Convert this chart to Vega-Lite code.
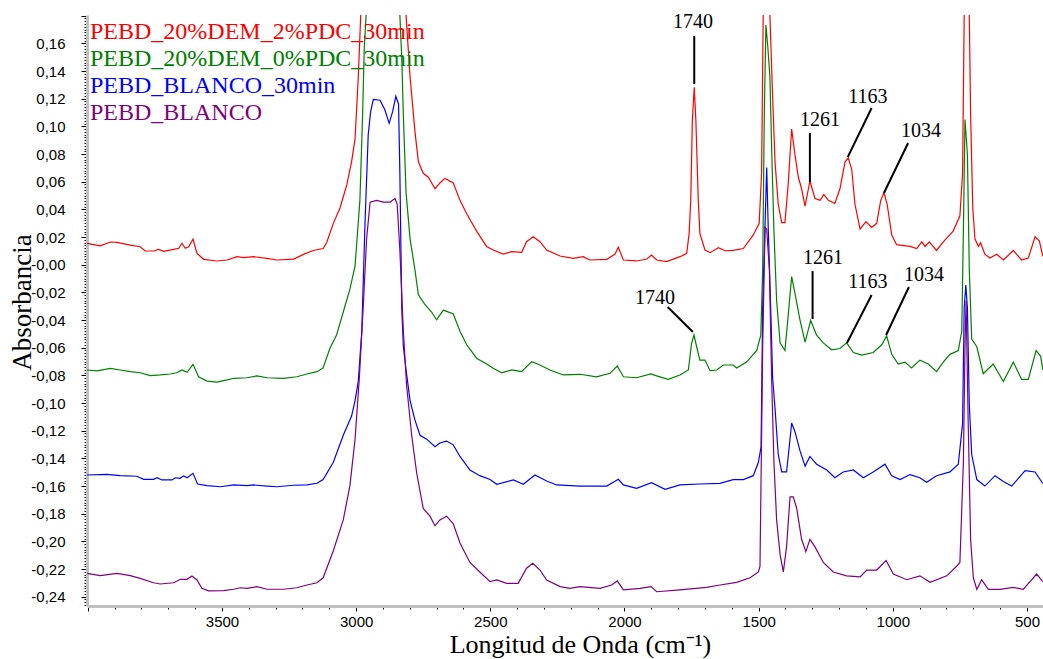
{
"$schema":"https://vega.github.io/schema/vega-lite/v6.json",
"width":956,"height":591,
"autosize":{"type":"none"},
"padding":{"left":87,"top":15,"right":0,"bottom":53},
"background":"white",
"config":{"view":{"stroke":null},
 "axis":{"grid":false,"domainColor":"#c0c0c0","domainWidth":3,"tickColor":"black","tickWidth":1,"labelFont":"Liberation Sans","labelFontSize":15,"labelColor":"black","labelOverlap":false,"labelFlush":false,"labelBound":false,"titleFont":"Liberation Serif","titleFontWeight":"normal","titleColor":"black"}},
"datasets":{
"red":[{"w":4003,"a":0.0155},{"w":3954,"a":0.0137},{"w":3916,"a":0.0164},{"w":3891,"a":0.0162},{"w":3842,"a":0.0142},{"w":3805,"a":0.013},{"w":3786,"a":0.0099},{"w":3755,"a":0.0099},{"w":3736,"a":0.0111},{"w":3717,"a":0.0097},{"w":3680,"a":0.0111},{"w":3661,"a":0.0119},{"w":3649,"a":0.0155},{"w":3637,"a":0.0119},{"w":3624,"a":0.013},{"w":3608,"a":0.0186},{"w":3593,"a":0.0082},{"w":3568,"a":0.0039},{"w":3519,"a":0.0027},{"w":3481,"a":0.0034},{"w":3444,"a":0.0058},{"w":3419,"a":0.0051},{"w":3382,"a":0.0058},{"w":3332,"a":0.0046},{"w":3295,"a":0.0034},{"w":3233,"a":0.0041},{"w":3196,"a":0.0075},{"w":3160,"a":0.0103},{"w":3123,"a":0.0117},{"w":3110,"a":0.0159},{"w":3085,"a":0.0299},{"w":3060,"a":0.041},{"w":3035,"a":0.0577},{"w":3017,"a":0.0744},{"w":3004,"a":0.0911},{"w":2992,"a":0.1357},{"w":2983,"a":0.1802},{"w":2941,"a":0.32},{"w":2855,"a":0.32},{"w":2814,"a":0.1802},{"w":2799,"a":0.1357},{"w":2781,"a":0.0966},{"w":2768,"a":0.0744},{"w":2750,"a":0.0661},{"w":2731,"a":0.0632},{"w":2706,"a":0.0549},{"w":2688,"a":0.0591},{"w":2669,"a":0.0624},{"w":2638,"a":0.0591},{"w":2613,"a":0.0465},{"w":2588,"a":0.0368},{"w":2551,"a":0.0243},{"w":2514,"a":0.0132},{"w":2489,"a":0.0106},{"w":2452,"a":0.0077},{"w":2420,"a":0.0094},{"w":2383,"a":0.009},{"w":2365,"a":0.0166},{"w":2340,"a":0.0202},{"w":2315,"a":0.0166},{"w":2290,"a":0.0106},{"w":2240,"a":0.0063},{"w":2191,"a":0.0046},{"w":2154,"a":0.0058},{"w":2129,"a":0.0034},{"w":2066,"a":0.0039},{"w":2035,"a":0.0077},{"w":2023,"a":0.0126},{"w":2004,"a":0.0034},{"w":1955,"a":0.0027},{"w":1917,"a":0.0041},{"w":1899,"a":0.007},{"w":1880,"a":0.0034},{"w":1843,"a":0.0022},{"w":1793,"a":0.0058},{"w":1768,"a":0.0082},{"w":1759,"a":0.0227},{"w":1753,"a":0.0468},{"w":1747,"a":0.1046},{"w":1740,"a":0.1282},{"w":1734,"a":0.1046},{"w":1725,"a":0.0468},{"w":1719,"a":0.0227},{"w":1700,"a":0.0106},{"w":1681,"a":0.0087},{"w":1650,"a":0.0123},{"w":1625,"a":0.0101},{"w":1595,"a":0.0103},{"w":1557,"a":0.0117},{"w":1520,"a":0.0215},{"w":1498,"a":0.0299},{"w":1489,"a":0.0661},{"w":1483,"a":0.1802},{"w":1471,"a":0.3},{"w":1458,"a":0.1802},{"w":1448,"a":0.1217},{"w":1439,"a":0.0744},{"w":1427,"a":0.0437},{"w":1414,"a":0.0304},{"w":1402,"a":0.0304},{"w":1390,"a":0.0577},{"w":1377,"a":0.0981},{"w":1365,"a":0.0799},{"w":1352,"a":0.0632},{"w":1340,"a":0.0549},{"w":1327,"a":0.0424},{"w":1309,"a":0.0605},{"w":1290,"a":0.0479},{"w":1271,"a":0.0465},{"w":1257,"a":0.0507},{"w":1240,"a":0.0465},{"w":1216,"a":0.0443},{"w":1197,"a":0.0549},{"w":1178,"a":0.0744},{"w":1166,"a":0.0772},{"w":1153,"a":0.0688},{"w":1141,"a":0.0437},{"w":1122,"a":0.0257},{"w":1100,"a":0.0312},{"w":1079,"a":0.027},{"w":1060,"a":0.0299},{"w":1045,"a":0.0465},{"w":1033,"a":0.0521},{"w":1021,"a":0.0437},{"w":1004,"a":0.0215},{"w":986,"a":0.0145},{"w":936,"a":0.0132},{"w":911,"a":0.0117},{"w":892,"a":0.0165},{"w":880,"a":0.0132},{"w":864,"a":0.0165},{"w":837,"a":0.0103},{"w":812,"a":0.0165},{"w":775,"a":0.0243},{"w":750,"a":0.0354},{"w":740,"a":0.0661},{"w":734,"a":0.1802},{"w":724,"a":0.3},{"w":715,"a":0.1802},{"w":710,"a":0.1078},{"w":702,"a":0.041},{"w":694,"a":0.0187},{"w":681,"a":0.0132},{"w":673,"a":0.0159},{"w":657,"a":0.0076},{"w":638,"a":0.0048},{"w":613,"a":0.0076},{"w":588,"a":0.0034},{"w":551,"a":0.0103},{"w":520,"a":0.0034},{"w":495,"a":0.0048},{"w":470,"a":0.0201},{"w":454,"a":0.0173},{"w":441,"a":0.0061}],
"green":[{"w":4003,"a":-0.0761},{"w":3966,"a":-0.0768},{"w":3916,"a":-0.0749},{"w":3879,"a":-0.0761},{"w":3842,"a":-0.0773},{"w":3805,"a":-0.0781},{"w":3767,"a":-0.0802},{"w":3730,"a":-0.0797},{"w":3693,"a":-0.079},{"w":3668,"a":-0.0781},{"w":3649,"a":-0.0761},{"w":3630,"a":-0.0778},{"w":3608,"a":-0.072},{"w":3587,"a":-0.081},{"w":3556,"a":-0.0841},{"w":3519,"a":-0.0848},{"w":3481,"a":-0.0833},{"w":3456,"a":-0.0821},{"w":3407,"a":-0.0817},{"w":3370,"a":-0.0804},{"w":3332,"a":-0.0817},{"w":3270,"a":-0.0821},{"w":3221,"a":-0.081},{"w":3183,"a":-0.079},{"w":3146,"a":-0.0773},{"w":3123,"a":-0.0746},{"w":3098,"a":-0.0606},{"w":3073,"a":-0.0509},{"w":3048,"a":-0.0342},{"w":3023,"a":-0.0175},{"w":3004,"a":-0.0008},{"w":2986,"a":0.0465},{"w":2976,"a":0.1078},{"w":2970,"a":0.1552},{"w":2963,"a":0.1802},{"w":2900,"a":0.3},{"w":2837,"a":0.1802},{"w":2830,"a":0.1495},{"w":2824,"a":0.1078},{"w":2814,"a":0.0521},{"w":2799,"a":0.0187},{"w":2781,"a":-0.0035},{"w":2768,"a":-0.0217},{"w":2744,"a":-0.0286},{"w":2719,"a":-0.0342},{"w":2700,"a":-0.0398},{"w":2675,"a":-0.0328},{"w":2638,"a":-0.0356},{"w":2613,"a":-0.0481},{"w":2588,"a":-0.0579},{"w":2551,"a":-0.0676},{"w":2514,"a":-0.0718},{"w":2489,"a":-0.0749},{"w":2458,"a":-0.0781},{"w":2420,"a":-0.0761},{"w":2383,"a":-0.0773},{"w":2346,"a":-0.0701},{"w":2315,"a":-0.0725},{"w":2278,"a":-0.0761},{"w":2228,"a":-0.0797},{"w":2166,"a":-0.0792},{"w":2104,"a":-0.081},{"w":2054,"a":-0.0785},{"w":2027,"a":-0.0732},{"w":2004,"a":-0.081},{"w":1955,"a":-0.0817},{"w":1902,"a":-0.079},{"w":1880,"a":-0.0804},{"w":1837,"a":-0.0828},{"w":1793,"a":-0.0797},{"w":1762,"a":-0.0761},{"w":1750,"a":-0.0568},{"w":1741,"a":-0.0508},{"w":1731,"a":-0.0593},{"w":1719,"a":-0.0689},{"w":1700,"a":-0.0689},{"w":1681,"a":-0.0766},{"w":1656,"a":-0.0761},{"w":1632,"a":-0.0725},{"w":1595,"a":-0.0725},{"w":1582,"a":-0.0746},{"w":1545,"a":-0.0704},{"w":1507,"a":-0.062},{"w":1492,"a":-0.0509},{"w":1485,"a":-0.0035},{"w":1479,"a":0.1078},{"w":1473,"a":0.1733},{"w":1466,"a":0.1579},{"w":1458,"a":0.1357},{"w":1451,"a":0.0799},{"w":1443,"a":0.0243},{"w":1433,"a":-0.0259},{"w":1420,"a":-0.0565},{"w":1402,"a":-0.062},{"w":1390,"a":-0.037},{"w":1377,"a":-0.0086},{"w":1365,"a":-0.0203},{"w":1346,"a":-0.0398},{"w":1327,"a":-0.0559},{"w":1306,"a":-0.0403},{"w":1284,"a":-0.0509},{"w":1259,"a":-0.0565},{"w":1228,"a":-0.0615},{"w":1197,"a":-0.0606},{"w":1172,"a":-0.0565},{"w":1147,"a":-0.0635},{"w":1116,"a":-0.0654},{"w":1073,"a":-0.0635},{"w":1041,"a":-0.0579},{"w":1023,"a":-0.0515},{"w":1004,"a":-0.0648},{"w":980,"a":-0.0718},{"w":955,"a":-0.0704},{"w":930,"a":-0.0746},{"w":899,"a":-0.069},{"w":868,"a":-0.0718},{"w":837,"a":-0.0773},{"w":812,"a":-0.0704},{"w":787,"a":-0.0648},{"w":756,"a":-0.062},{"w":743,"a":-0.0481},{"w":737,"a":0.0243},{"w":731,"a":0.105},{"w":722,"a":0.0799},{"w":715,"a":-0.0035},{"w":706,"a":-0.0537},{"w":687,"a":-0.0593},{"w":663,"a":-0.0788},{"w":626,"a":-0.0718},{"w":588,"a":-0.0844},{"w":551,"a":-0.0704},{"w":520,"a":-0.0829},{"w":495,"a":-0.0829},{"w":466,"a":-0.062},{"w":449,"a":-0.0662},{"w":441,"a":-0.076}],
"blue":[{"w":4003,"a":-0.152},{"w":3929,"a":-0.1515},{"w":3879,"a":-0.1525},{"w":3817,"a":-0.1529},{"w":3792,"a":-0.1551},{"w":3755,"a":-0.1551},{"w":3742,"a":-0.154},{"w":3724,"a":-0.1556},{"w":3686,"a":-0.1556},{"w":3674,"a":-0.154},{"w":3657,"a":-0.1544},{"w":3643,"a":-0.1527},{"w":3630,"a":-0.154},{"w":3608,"a":-0.1508},{"w":3591,"a":-0.1585},{"w":3556,"a":-0.1597},{"w":3506,"a":-0.1605},{"w":3456,"a":-0.1592},{"w":3407,"a":-0.1597},{"w":3382,"a":-0.1592},{"w":3332,"a":-0.16},{"w":3295,"a":-0.1605},{"w":3233,"a":-0.1594},{"w":3183,"a":-0.1592},{"w":3146,"a":-0.158},{"w":3123,"a":-0.1553},{"w":3085,"a":-0.1428},{"w":3048,"a":-0.1233},{"w":3017,"a":-0.1094},{"w":3004,"a":-0.0982},{"w":2992,"a":-0.0844},{"w":2979,"a":-0.0481},{"w":2967,"a":0.0299},{"w":2955,"a":0.0939},{"w":2946,"a":0.1106},{"w":2936,"a":0.1195},{"w":2911,"a":0.1189},{"w":2893,"a":0.112},{"w":2877,"a":0.1022},{"w":2864,"a":0.1106},{"w":2852,"a":0.1217},{"w":2842,"a":0.1162},{"w":2837,"a":0.0661},{"w":2830,"a":-0.0314},{"w":2824,"a":-0.0593},{"w":2814,"a":-0.076},{"w":2799,"a":-0.0982},{"w":2781,"a":-0.1122},{"w":2762,"a":-0.1233},{"w":2737,"a":-0.1261},{"w":2706,"a":-0.1316},{"w":2688,"a":-0.1289},{"w":2663,"a":-0.1275},{"w":2638,"a":-0.1302},{"w":2613,"a":-0.1386},{"w":2576,"a":-0.1484},{"w":2539,"a":-0.1525},{"w":2501,"a":-0.1553},{"w":2476,"a":-0.1587},{"w":2414,"a":-0.1556},{"w":2377,"a":-0.1587},{"w":2334,"a":-0.152},{"w":2290,"a":-0.1563},{"w":2253,"a":-0.1592},{"w":2166,"a":-0.16},{"w":2066,"a":-0.16},{"w":2023,"a":-0.1551},{"w":2004,"a":-0.1592},{"w":1955,"a":-0.1616},{"w":1899,"a":-0.1576},{"w":1849,"a":-0.1623},{"w":1793,"a":-0.1592},{"w":1719,"a":-0.1585},{"w":1644,"a":-0.1581},{"w":1595,"a":-0.1553},{"w":1557,"a":-0.1553},{"w":1520,"a":-0.1525},{"w":1501,"a":-0.1428},{"w":1491,"a":-0.1316},{"w":1485,"a":-0.0314},{"w":1476,"a":0.0299},{"w":1470,"a":0.0702},{"w":1464,"a":0.0243},{"w":1455,"a":-0.0314},{"w":1448,"a":-0.0815},{"w":1439,"a":-0.1038},{"w":1427,"a":-0.1372},{"w":1414,"a":-0.1498},{"w":1396,"a":-0.1498},{"w":1386,"a":-0.1316},{"w":1377,"a":-0.1144},{"w":1365,"a":-0.1205},{"w":1346,"a":-0.1344},{"w":1327,"a":-0.1456},{"w":1309,"a":-0.1386},{"w":1284,"a":-0.1442},{"w":1246,"a":-0.1484},{"w":1216,"a":-0.154},{"w":1185,"a":-0.1498},{"w":1147,"a":-0.1484},{"w":1110,"a":-0.154},{"w":1073,"a":-0.1498},{"w":1029,"a":-0.1442},{"w":1004,"a":-0.1525},{"w":973,"a":-0.1553},{"w":936,"a":-0.1517},{"w":899,"a":-0.154},{"w":874,"a":-0.1573},{"w":837,"a":-0.1525},{"w":787,"a":-0.1498},{"w":756,"a":-0.1442},{"w":740,"a":-0.1149},{"w":734,"a":-0.0314},{"w":728,"a":-0.0147},{"w":722,"a":-0.0314},{"w":715,"a":-0.101},{"w":706,"a":-0.1372},{"w":687,"a":-0.1553},{"w":657,"a":-0.16},{"w":619,"a":-0.1525},{"w":588,"a":-0.1567},{"w":557,"a":-0.16},{"w":507,"a":-0.1489},{"w":470,"a":-0.1498},{"w":441,"a":-0.1581}],
"purple":[{"w":4003,"a":-0.2231},{"w":3954,"a":-0.2248},{"w":3891,"a":-0.2231},{"w":3842,"a":-0.2248},{"w":3805,"a":-0.2267},{"w":3755,"a":-0.2299},{"w":3730,"a":-0.2308},{"w":3680,"a":-0.2299},{"w":3655,"a":-0.2274},{"w":3630,"a":-0.2274},{"w":3612,"a":-0.225},{"w":3593,"a":-0.2279},{"w":3575,"a":-0.2339},{"w":3550,"a":-0.2358},{"w":3494,"a":-0.2356},{"w":3456,"a":-0.2346},{"w":3432,"a":-0.2335},{"w":3407,"a":-0.2339},{"w":3370,"a":-0.2327},{"w":3332,"a":-0.2346},{"w":3270,"a":-0.2346},{"w":3221,"a":-0.2335},{"w":3183,"a":-0.2315},{"w":3146,"a":-0.2299},{"w":3123,"a":-0.2263},{"w":3085,"a":-0.2068},{"w":3048,"a":-0.1845},{"w":3023,"a":-0.1595},{"w":3004,"a":-0.1261},{"w":2988,"a":-0.0815},{"w":2973,"a":-0.0286},{"w":2961,"a":0.0187},{"w":2948,"a":0.0452},{"w":2924,"a":0.0465},{"w":2899,"a":0.0452},{"w":2874,"a":0.0452},{"w":2855,"a":0.0479},{"w":2847,"a":0.0437},{"w":2837,"a":0.0103},{"w":2824,"a":-0.0481},{"w":2812,"a":-0.0871},{"w":2793,"a":-0.1233},{"w":2774,"a":-0.1511},{"w":2750,"a":-0.1762},{"w":2725,"a":-0.1818},{"w":2706,"a":-0.1887},{"w":2688,"a":-0.1845},{"w":2663,"a":-0.1818},{"w":2638,"a":-0.1873},{"w":2613,"a":-0.2012},{"w":2576,"a":-0.2152},{"w":2539,"a":-0.2221},{"w":2501,"a":-0.2291},{"w":2476,"a":-0.2279},{"w":2439,"a":-0.2303},{"w":2396,"a":-0.2303},{"w":2365,"a":-0.2194},{"w":2342,"a":-0.2158},{"w":2315,"a":-0.2207},{"w":2290,"a":-0.2279},{"w":2240,"a":-0.2327},{"w":2203,"a":-0.2339},{"w":2166,"a":-0.2327},{"w":2091,"a":-0.2339},{"w":2048,"a":-0.2315},{"w":2027,"a":-0.2286},{"w":2004,"a":-0.2351},{"w":1942,"a":-0.2339},{"w":1901,"a":-0.2327},{"w":1880,"a":-0.2364},{"w":1793,"a":-0.2351},{"w":1694,"a":-0.2332},{"w":1644,"a":-0.2315},{"w":1582,"a":-0.2296},{"w":1532,"a":-0.2263},{"w":1501,"a":-0.2221},{"w":1495,"a":-0.218},{"w":1485,"a":-0.0593},{"w":1476,"a":0.027},{"w":1470,"a":0.0257},{"w":1460,"a":-0.0035},{"w":1451,"a":-0.0871},{"w":1443,"a":-0.1428},{"w":1433,"a":-0.1845},{"w":1420,"a":-0.2096},{"w":1408,"a":-0.2221},{"w":1396,"a":-0.204},{"w":1383,"a":-0.1678},{"w":1371,"a":-0.1678},{"w":1358,"a":-0.1762},{"w":1340,"a":-0.1985},{"w":1324,"a":-0.2074},{"w":1309,"a":-0.1985},{"w":1290,"a":-0.204},{"w":1259,"a":-0.2152},{"w":1222,"a":-0.2221},{"w":1172,"a":-0.2249},{"w":1122,"a":-0.2257},{"w":1097,"a":-0.2207},{"w":1060,"a":-0.2207},{"w":1025,"a":-0.2138},{"w":998,"a":-0.2236},{"w":948,"a":-0.2277},{"w":899,"a":-0.2249},{"w":861,"a":-0.2296},{"w":799,"a":-0.2249},{"w":762,"a":-0.218},{"w":750,"a":-0.2152},{"w":737,"a":-0.1428},{"w":731,"a":-0.0593},{"w":727,"a":-0.0259},{"w":719,"a":-0.1149},{"w":710,"a":-0.1985},{"w":700,"a":-0.2263},{"w":687,"a":-0.2347},{"w":669,"a":-0.2277},{"w":644,"a":-0.2347},{"w":601,"a":-0.2347},{"w":551,"a":-0.2332},{"w":514,"a":-0.2347},{"w":464,"a":-0.2236},{"w":441,"a":-0.2291}],
"notes":[{"w":1745,"a":0.1754,"t":"1740"},{"w":1271,"a":0.1046,"t":"1261"},{"w":1093,"a":0.1212,"t":"1163"},{"w":895,"a":0.097,"t":"1034"},{"w":1886,"a":-0.0241,"t":"1740"},{"w":1260,"a":0.0048,"t":"1261"},{"w":1093,"a":-0.0125,"t":"1163"},{"w":884,"a":-0.0074,"t":"1034"}],
"leaders":[{"w":1740,"a":0.1653,"w2":1740,"a2":0.1306},{"w":1309,"a":0.0952,"w2":1309,"a2":0.0598},{"w":1079,"a":0.1133,"w2":1168,"a2":0.0778},{"w":943,"a":0.088,"w2":1033,"a2":0.0518},{"w":1839,"a":-0.0306,"w2":1745,"a2":-0.0487},{"w":1299,"a":-0.0046,"w2":1299,"a2":-0.0392},{"w":1079,"a":-0.0219,"w2":1171,"a2":-0.0566},{"w":940,"a":-0.0161,"w2":1025,"a2":-0.0508}]
},
"encoding":{
  "x":{"field":"w","type":"quantitative","scale":{"domain":[440.3,4003],"reverse":true,"nice":false,"zero":false},
   "axis":{"title":"Longitud de Onda (cm⁻¹)","tickCount":36,"labelExpr":"abs(datum.value/500 - round(datum.value/500)) < 0.01 && datum.value < 3990 ? format(datum.value,'d') : ''","tickSize":{"condition":{"test":"abs(datum.value/500 - round(datum.value/500)) < 0.01","value":5},"value":3},"labelPadding":3,"titleFontSize":26,"titleX":493,"titleY":46,"titleBaseline":"alphabetic","titleAnchor":"middle","titleAlign":"center"}},
  "y":{"field":"a","type":"quantitative","scale":{"domain":[-0.2467,0.1805],"nice":false,"zero":false},
   "axis":{"title":"Absorbancia","tickCount":213,"labelExpr":"abs(datum.value*50 - round(datum.value*50)) < 0.01 && datum.value < 0.17 ? (abs(datum.value) < 0.0001 ? '-0,00' : (datum.value < 0 ? '-' : '') + replace(format(abs(datum.value),'.2f'),'.',',')) : ''","tickSize":{"condition":{"test":"abs(datum.value*50 - round(datum.value*50)) < 0.01","value":6},"value":3},"labelPadding":16,"titleFontSize":27,"titleX":-57,"titleY":287,"titleBaseline":"alphabetic","titleAlign":"center","titleAngle":-90}}
},
"layer":[
{"data":{"name":"red"},"mark":{"type":"line","strokeWidth":1.2,"clip":true},
 "encoding":{
  "color":{"datum":"PEBD_20%DEM_2%PDC_30min","type":"nominal","scale":{"domain":["PEBD_20%DEM_2%PDC_30min","PEBD_20%DEM_0%PDC_30min","PEBD_BLANCO_30min","PEBD_BLANCO"],"range":["#ff0000","#008000","#0000ff","#800080"]},
   "legend":{"orient":"none","legendX":-21,"legendY":5,"title":null,"symbolSize":0,"symbolOpacity":0,"symbolStrokeWidth":0,"labelOffset":0,"labelFont":"Liberation Serif","labelFontSize":24,"rowPadding":3,"padding":0,"labelLimit":0,"encode":{"labels":{"update":{"fill":{"scale":"color","field":"value"}}}}}}}},
{"data":{"name":"green"},"mark":{"type":"line","strokeWidth":1.2,"clip":true},
 "encoding":{"color":{"datum":"PEBD_20%DEM_0%PDC_30min","type":"nominal"}}},
{"data":{"name":"blue"},"mark":{"type":"line","strokeWidth":1.2,"clip":true},
 "encoding":{"color":{"datum":"PEBD_BLANCO_30min","type":"nominal"}}},
{"data":{"name":"purple"},"mark":{"type":"line","strokeWidth":1.2,"clip":true},
 "encoding":{"color":{"datum":"PEBD_BLANCO","type":"nominal"}}},
{"data":{"name":"leaders"},"mark":{"type":"rule","strokeWidth":2,"color":"black"},
 "encoding":{"x2":{"field":"w2"},"y2":{"field":"a2"}}},
{"data":{"name":"notes"},"mark":{"type":"text","font":"Liberation Serif","fontSize":20,"align":"center","baseline":"middle","color":"black"},
 "encoding":{"text":{"field":"t"}}}
]
}
